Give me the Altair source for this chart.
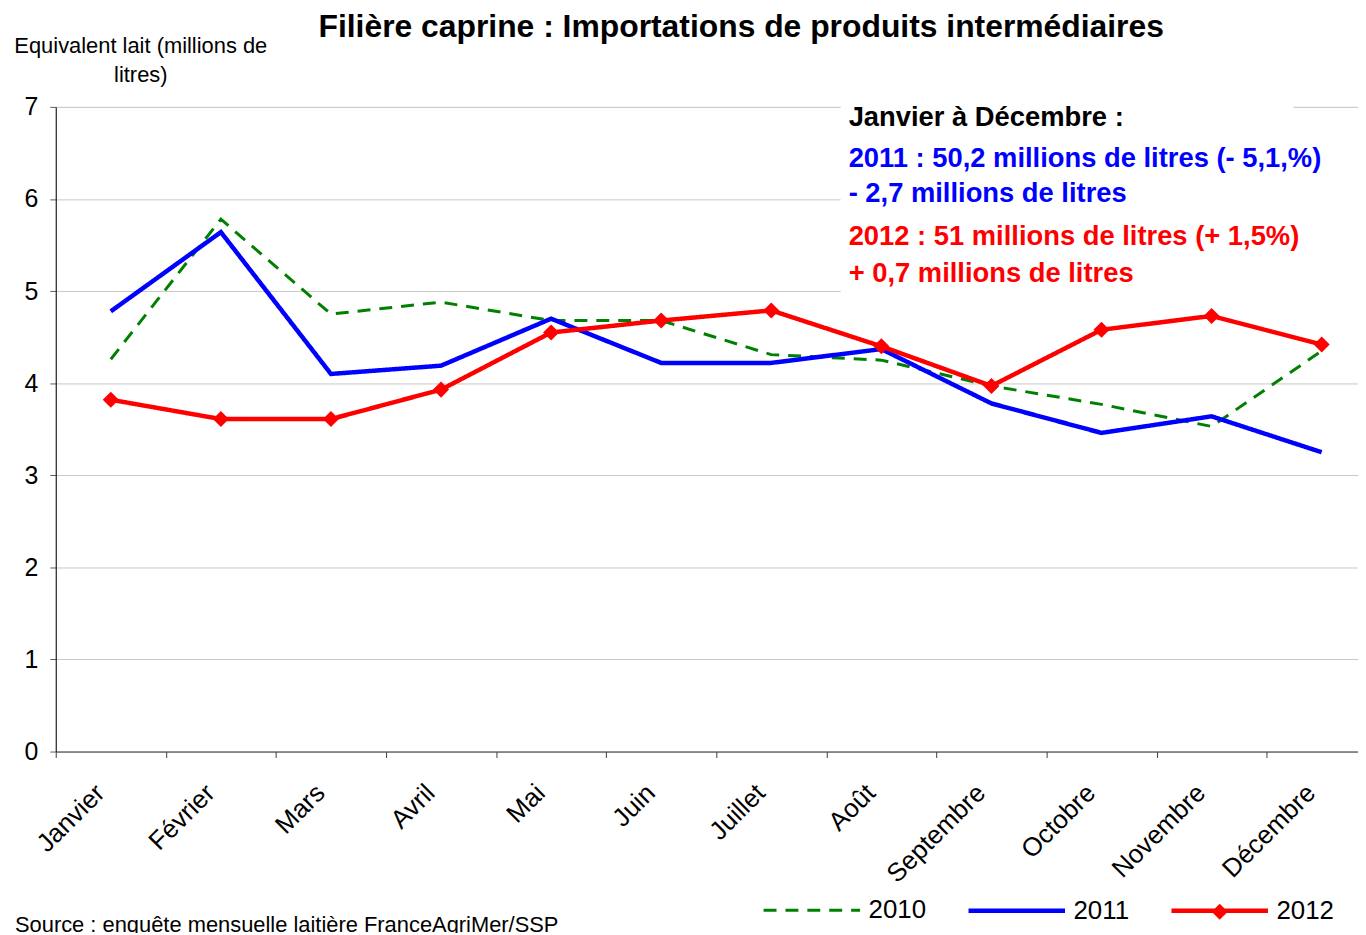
import json
import altair as alt
import pandas as pd

months = ["Janvier", "Février", "Mars", "Avril", "Mai", "Juin", "Juillet",
          "Août", "Septembre", "Octobre", "Novembre", "Décembre"]
years = ["2010", "2011", "2012"]
v2010 = [4.26, 5.78, 4.75, 4.88, 4.68, 4.68, 4.31, 4.25, 3.97, 3.77, 3.53, 4.35]
v2011 = [4.78, 5.64, 4.10, 4.19, 4.70, 4.22, 4.22, 4.37, 3.78, 3.46, 3.64, 3.25]
v2012 = [3.82, 3.61, 3.61, 3.93, 4.55, 4.68, 4.79, 4.40, 3.97, 4.58, 4.73, 4.42]
colors = ["#008000", "#0000FF", "#FF0000"]

title_text = "Filière caprine : Importations de produits intermédiaires"
y_title = ["Equivalent lait (millions de", "litres)"]
note_lines = ["Janvier à Décembre :",
              "2011 : 50,2 millions de litres (- 5,1,%)",
              "- 2,7 millions de litres",
              "2012 : 51 millions de litres (+ 1,5%)",
              "+ 0,7 millions de litres"]
note_colors = ["#000000", "#0000FF", "#0000FF", "#FF0000", "#FF0000"]
source_text = "Source : enquête mensuelle laitière FranceAgriMer/SSP"

rows = []
for yr, vals in zip(years, [v2010, v2011, v2012]):
    for i, (m, v) in enumerate(zip(months, vals)):
        rows.append({"idx": i, "month": m, "year": yr, "value": v})
df = pd.DataFrame(rows)
df12 = df[df["year"] == "2012"].copy()
df12["mk"] = "2012"

FONT = "Liberation Sans"

tick_vals = sorted([i - 0.5 for i in range(12)] + list(range(12)))
label_expr = "datum.value % 1 == 0 ? " + json.dumps(months, ensure_ascii=False) + "[datum.value] : ''"

x_enc = alt.X("idx:Q",
              scale=alt.Scale(domain=[-0.5, 11.33], nice=False, zero=False),
              axis=alt.Axis(values=tick_vals, labelExpr=label_expr, grid=False,
                            tickOpacity={"condition": {"test": "datum.value % 1 != 0", "value": 1}, "value": 0},
                            tickSize=6, tickColor="#404040", domainColor="#404040",
                            labelAngle=-45, labelAlign="right", labelBaseline="top",
                            labelPadding=22, labelOffset=-20, labelFontSize=26,
                            labelFont=FONT, labelColor="black", labelOverlap=False,
                            labelFlush=False, labelBound=False, title=None))
y_enc = alt.Y("value:Q",
              scale=alt.Scale(domain=[0, 7], nice=False, zero=True),
              axis=alt.Axis(values=list(range(8)), format="d", grid=True, gridColor="#c8c8c8",
                            domainColor="black", tickColor="#606060", tickSize=6,
                            labelFontSize=25, labelFont=FONT, labelColor="black",
                            labelPadding=12,
                            title=y_title, titleAngle=0, titleAlign="center",
                            titleBaseline="middle", titleX=85, titleY=-62,
                            titleFontSize=22, titleFont=FONT, titleFontWeight="normal",
                            titleLineHeight=29, titleColor="black"))

lines = alt.Chart(df).mark_line(strokeJoin="miter").encode(
    x=x_enc, y=y_enc,
    color=alt.Color("year:N", scale=alt.Scale(domain=years, range=colors),
                    legend=alt.Legend(orient="none", legendX=709, legendY=757,
                                      direction="horizontal", columns=3, title=None,
                                      symbolType="stroke", symbolSize=9409,
                                      symbolStrokeWidth=4.5, labelFontSize=26,
                                      labelFont=FONT, labelColor="black",
                                      labelOffset=6, columnPadding=33, padding=0,
                                      labelLimit=0)),
    strokeDash=alt.StrokeDash("year:N", scale=alt.Scale(domain=years, range=[[13, 9], [1, 0], [1, 0]])),
    strokeWidth=alt.StrokeWidth("year:N", scale=alt.Scale(type="ordinal", domain=years, range=[3, 4.5, 4.5]), legend=None),
    order=alt.Order("year:N"),
)

points = alt.Chart(df12).mark_point(filled=True, color="#FF0000", size=260, opacity=1).encode(
    x="idx:Q", y="value:Q",
    shape=alt.Shape("mk:N", scale=alt.Scale(domain=["2012"], range=["diamond"]),
                    legend=alt.Legend(orient="none", legendX=1157, legendY=796, title=None,
                                      labelExpr="''", symbolFillColor="#FF0000",
                                      symbolStrokeColor="#FF0000", symbolSize=260,
                                      padding=0, labelFontSize=26)),
)

one = alt.Data(values=[{}])

box1 = alt.Chart(one).mark_rect(color="white").encode(
    x=alt.value(789), x2=alt.value(1309), y=alt.value(3), y2=alt.value(195))
box2 = alt.Chart(one).mark_rect(color="white").encode(
    x=alt.value(789), x2=alt.value(1244), y=alt.value(-2), y2=alt.value(4))

def txt(text, x, y, size, color="black", weight="normal", align="left"):
    return alt.Chart(one).mark_text(text=text, fontSize=size, font=FONT, color=color,
                                    fontWeight=weight, align=align, baseline="middle").encode(
        x=alt.value(x), y=alt.value(y))

layers = [box1, box2, lines, points]
layers.append(txt(title_text, 689, -80, 32, weight="bold", align="center"))
note_y = [11, 52, 88, 131, 168]
for t, c, yy in zip(note_lines, note_colors, note_y):
    layers.append(txt(t, 797, yy, 27.5, color=c, weight="bold"))
layers.append(txt(source_text, -41, 822, 22))

chart = alt.layer(*layers).resolve_scale(shape="independent").properties(
    width=1309, height=648,
    autosize=alt.AutoSizeParams(type="none"),
    padding={"left": 48, "top": 97, "right": 0, "bottom": 180},
).configure_view(stroke=None).configure(font=FONT)

chart.save("out.html", embed_options={"renderer": "svg", "actions": False})
